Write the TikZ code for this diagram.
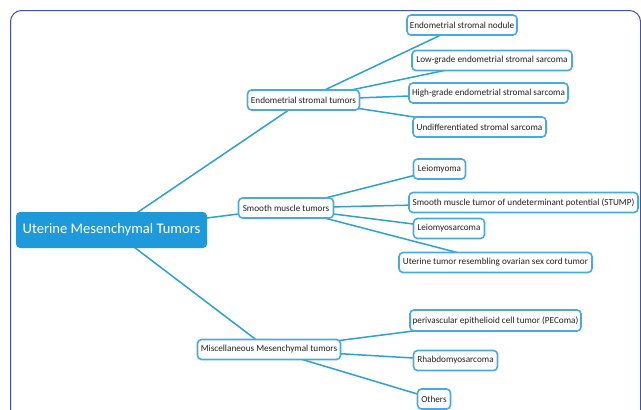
\documentclass[tikz,border=0pt]{standalone}
\usepackage{fontspec}
\setmainfont{Carlito}
\usetikzlibrary{backgrounds}
\definecolor{framec}{RGB}{63,81,181}
\definecolor{boxc}{RGB}{72,170,224}
\definecolor{linec}{RGB}{45,160,215}
\definecolor{rootc}{RGB}{30,154,218}
\definecolor{txtc}{RGB}{34,34,34}
\tikzset{
  leaf/.style={draw=boxc, line width=1.6pt, rounded corners=4pt, fill=white,
    font=\fontsize{9.2}{11}\selectfont, text=txtc, inner sep=0pt, minimum height=20pt},
  rootbox/.style={fill=rootc, rounded corners=4pt, text=white,
    font=\fontsize{14.6}{17}\selectfont, inner sep=0pt, minimum height=36pt, minimum width=191pt},
  link/.style={draw=linec, line width=1.5pt}
}
\begin{document}
\begin{tikzpicture}[x=1pt,y=-1pt]
\clip (0,0) rectangle (641,410);
\draw[framec, line width=1pt, rounded corners=11pt] (10.5,430) -- (10.5,10.5) -- (640.5,10.5) -- (640.5,430);

\node[rootbox] (root) at (111.5,230) {Uterine Mesenchymal Tumors};

\node[leaf, minimum width=112pt] (endo) at (303.5,100) {Endometrial stromal tumors};
\node[leaf, minimum width=95pt] (smooth) at (286,208) {Smooth muscle tumors};
\node[leaf, minimum width=143pt] (misc) at (269,349.5) {Miscellaneous Mesenchymal tumors};

\node[leaf, minimum width=110pt] (nodule) at (462,25) {Endometrial stromal nodule};
\node[leaf, minimum width=160pt] (low) at (492,60.5) {Low-grade endometrial stromal sarcoma};
\node[leaf, minimum width=159pt] (high) at (488.5,93) {High-grade endometrial stromal sarcoma};
\node[leaf, minimum width=133pt] (undiff) at (479.5,127) {Undifferentiated stromal sarcoma};

\node[leaf, minimum width=52pt] (leio) at (439.5,169) {Leiomyoma};
\node[leaf, minimum width=229pt] (stump) at (523.5,202.5) {Smooth muscle tumor of undeterminant potential (STUMP)};
\node[leaf, minimum width=71pt] (leios) at (449,228.5) {Leiomyosarcoma};
\node[leaf, minimum width=193pt] (utros) at (495.5,262.5) {Uterine tumor resembling ovarian sex cord tumor};

\node[leaf, minimum width=171pt, minimum height=21pt] (pec) at (495.5,320.5) {perivascular epithelioid cell tumor (PEComa)};
\node[leaf, minimum width=84pt] (rhab) at (455.5,360.5) {Rhabdomyosarcoma};
\node[leaf, minimum width=33pt] (oth) at (434,399) {Others};

\begin{scope}[on background layer]
\draw[link] (root.center) -- (endo.center);
\draw[link] (root.center) -- (smooth.center);
\draw[link] (root.center) -- (misc.center);
\draw[link] (endo.center) -- (nodule.center);
\draw[link] (endo.center) -- (low.center);
\draw[link] (endo.center) -- (high.center);
\draw[link] (endo.center) -- (undiff.center);
\draw[link] (smooth.center) -- (leio.center);
\draw[link] (smooth.center) -- (stump.center);
\draw[link] (smooth.center) -- (leios.center);
\draw[link] (smooth.center) -- (utros.center);
\draw[link] (misc.center) -- (pec.center);
\draw[link] (misc.center) -- (rhab.center);
\draw[link] (misc.center) -- (oth.center);
\end{scope}
\end{tikzpicture}
\end{document}
